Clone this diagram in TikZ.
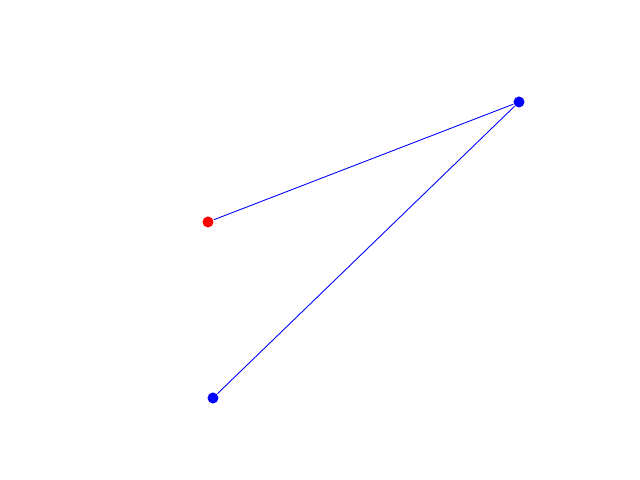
\documentclass[tikz,border=0pt]{standalone}
\usepackage{xcolor}

\tikzset{
    dot/.style={circle, inner sep=0pt, minimum size=0.11cm},
    link/.style={blue, line width=0.25pt}
}

\begin{document}
\begin{tikzpicture}
    \useasboundingbox (0, 0) rectangle (6.4, 4.8);

    \node[dot, fill=red]  (start)  at (2.08, 2.58) {};
    \node[dot, fill=blue] (peak)   at (5.19, 3.78) {};
    \node[dot, fill=blue] (bottom) at (2.13, 0.82) {};

    \draw [link] (start) -- (peak);
    \draw [link] (bottom) -- (peak);
\end{tikzpicture}
\end{document}
